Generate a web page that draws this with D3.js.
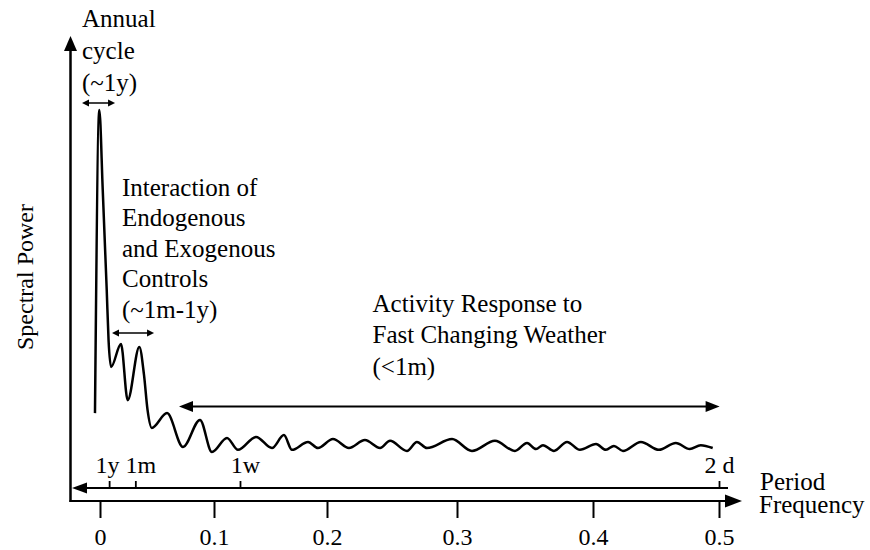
<!DOCTYPE html>
<html>
<head>
<meta charset="utf-8">
<script src="https://cdn.jsdelivr.net/npm/d3@7"></script>
<style>
  html, body { margin: 0; padding: 0; background: #fff; }
  svg { display: block; }
  svg text { font-family: "Liberation Serif", "Times New Roman", serif; fill: #000; }
</style>
</head>
<body>
<svg id="chart" width="870" height="550" font-family="Liberation Serif, Times New Roman, serif"></svg>
<script>
// Schematic power spectrum: frequency (cycles per day) vs. relative spectral power
const freq = [
  -0.0044, -0.0006, 0.0024, 0.0059, 0.0075, 0.0097,
  0.0184, 0.0243, 0.0345, 0.0386, 0.0417, 0.0454,
  0.0588, 0.0728, 0.0877, 0.0982, 0.1115, 0.1212,
  0.1372, 0.1513, 0.1619, 0.1690, 0.1832, 0.1920,
  0.2046, 0.2169, 0.2292, 0.2408, 0.2485, 0.2615,
  0.2692, 0.2769, 0.2962, 0.3110, 0.3279, 0.3426,
  0.3515, 0.3581, 0.3632, 0.3713, 0.3809, 0.3904,
  0.4024, 0.4103, 0.4166, 0.4238, 0.4380, 0.4523,
  0.4657, 0.4768, 0.4855, 0.4950
];
const power = [
  15.8, 100, 77.8, 50, 36.1, 28.6,
  35, 19.4, 34.2, 26.4, 16.7, 11.7,
  15.8, 6.4, 13.9, 5.0, 8.9, 5.6,
  9.2, 6.1, 9.7, 5.6, 7.8, 6.1,
  8.6, 6.1, 8.3, 6.1, 8.1, 5.3,
  7.8, 6.1, 8.6, 5.3, 8.1, 5.3,
  7.5, 5.8, 6.9, 5.3, 7.8, 5.6,
  7.2, 5.6, 6.7, 5.3, 7.8, 5.6,
  7.5, 5.8, 6.9, 6.1
];

// Frequency axis ticks
const freqTicks = [0, 0.1, 0.2, 0.3, 0.4, 0.5];

// Period axis ticks (positions given in frequency units)
const periodLabels = ["1y", "1m", "1w", "2 d"];
const periodFreq = [0.008, 0.031, 0.123, 0.5];

// Annotated frequency bands
const bandText = [
  ["Annual", "cycle", "(~1y)"],
  ["Interaction of", "Endogenous", "and Exogenous", "Controls", "(~1m-1y)"],
  ["Activity Response to", "Fast Changing Weather", "(<1m)"]
];
const bandFrom = [-0.0158, 0.0105, 0.0693];
const bandTo = [0.0132, 0.0474, 0.5005];

const FONT = "Liberation Serif, Times New Roman, serif";
const svg = d3.select("#chart");

// Hand-spaced frequency axis, so the scale is piecewise linear between ticks
const x = d3.scaleLinear()
  .domain(freqTicks)
  .range([100, 214, 327, 457, 593, 719]);
const y = d3.scaleLinear().domain([0, 100]).range([470, 110]);

function head(g, tipX, tipY, dir, len, half) {
  let pts;
  if (dir === "up") pts = [[tipX, tipY], [tipX - half, tipY + len], [tipX + half, tipY + len]];
  else if (dir === "left") pts = [[tipX, tipY], [tipX + len, tipY - half], [tipX + len, tipY + half]];
  else pts = [[tipX, tipY], [tipX - len, tipY - half], [tipX - len, tipY + half]];
  g.append("path").attr("d", "M" + pts.join("L") + "Z").attr("fill", "#000");
}

const axes = svg.append("g");

// Vertical power axis
const yTop = 36, frameY = 501, frameX = 70.5;
axes.append("line")
  .attr("x1", frameX).attr("x2", frameX).attr("y1", frameY + 1).attr("y2", yTop + 10)
  .attr("stroke", "#000").attr("stroke-width", 2.5);
head(axes, frameX, yTop, "up", 15, 6.5);

// Frequency arrow (bottom frame line)
const fArrowTip = 742;
axes.append("line")
  .attr("x1", frameX - 1).attr("x2", fArrowTip - 10).attr("y1", frameY).attr("y2", frameY)
  .attr("stroke", "#000").attr("stroke-width", 2.2);
head(axes, fArrowTip, frameY, "right", 17, 6.5);

// Frequency ticks and labels
const fAxis = svg.append("g")
  .attr("transform", `translate(0,${frameY})`)
  .call(d3.axisBottom(x).tickValues(freqTicks).tickSize(17).tickPadding(10)
    .tickFormat(d => d === 0 ? "0" : d3.format(".1f")(d)));
fAxis.attr("font-family", FONT).attr("font-size", 24);
fAxis.select(".domain").remove();
fAxis.selectAll(".tick line").attr("stroke", "#000").attr("stroke-width", 2);
fAxis.selectAll(".tick text").attr("fill", "#000");

// Period arrow
const pY = 488;
axes.append("line")
  .attr("x1", 80).attr("x2", 728).attr("y1", pY).attr("y2", pY)
  .attr("stroke", "#000").attr("stroke-width", 2);
head(axes, 72, pY, "left", 15, 5.5);

const pAxis = svg.append("g")
  .attr("transform", `translate(0,${pY})`)
  .call(d3.axisTop(x).tickValues(periodFreq).tickSize(7).tickPadding(8)
    .tickFormat((d, i) => periodLabels[i]));
pAxis.attr("font-family", FONT).attr("font-size", 24);
pAxis.select(".domain").remove();
pAxis.selectAll(".tick line").attr("stroke", "#000").attr("stroke-width", 1.8);
pAxis.selectAll(".tick text")
  .attr("fill", "#000")
  .attr("dx", (d, i) => i === 0 ? -2 : (i === 3 ? 0 : 5));

// Axis titles
svg.append("text")
  .attr("transform", "translate(33,277) rotate(-90)")
  .attr("text-anchor", "middle")
  .attr("font-family", FONT).attr("font-size", 24)
  .text("Spectral Power");
const axTitle = svg.append("text").attr("font-family", FONT).attr("font-size", 25);
axTitle.append("tspan").attr("x", 760).attr("y", 490).text("Period");
axTitle.append("tspan").attr("x", 759).attr("y", 513).text("Frequency");

// Spectrum curve
const line = d3.line()
  .x((d, i) => x(freq[i]))
  .y((d, i) => y(power[i]))
  .curve(d3.curveMonotoneX);
svg.append("path")
  .datum(power)
  .attr("d", line)
  .attr("fill", "none")
  .attr("stroke", "#000")
  .attr("stroke-width", 2.5)
  .attr("stroke-linejoin", "round");

// Band annotations: double-headed arrows and their captions
const bandY = [103, 333, 406.5];
const bandHead = [[7, 3.5], [7, 3.5], [14, 5.5]];
const bandWidth = [1.5, 1.5, 2];
const textX = [82, 122, 372.5];
const textY0 = [26.5, 196, 311.7];
const textStep = [32, 30.4, 31.7];

bandFrom.forEach((f0, i) => {
  const g = svg.append("g");
  const x0 = x(f0), x1 = x(bandTo[i]);
  const [len, half] = bandHead[i];
  g.append("line")
    .attr("x1", x0 + len - 1).attr("x2", x1 - len + 1)
    .attr("y1", bandY[i]).attr("y2", bandY[i])
    .attr("stroke", "#000").attr("stroke-width", bandWidth[i]);
  head(g, x0, bandY[i], "left", len, half);
  head(g, x1, bandY[i], "right", len, half);

  const t = g.append("text").attr("font-family", FONT).attr("font-size", 25).attr("fill", "#000");
  bandText[i].forEach((s, k) => {
    t.append("tspan").attr("x", textX[i]).attr("y", textY0[i] + k * textStep[i]).text(s);
  });
});
</script>
</body>
</html>
